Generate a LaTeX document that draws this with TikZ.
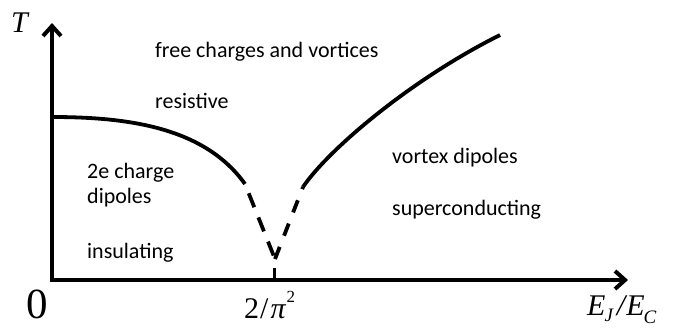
\documentclass[tikz,border=0pt]{standalone}
\usepackage{fontspec}
\setmainfont{Carlito}
\newfontfamily\tms{Liberation Serif}
\usetikzlibrary{arrows.meta}
\tikzset{
  lbl/.style={anchor=base west, inner sep=0pt, font=\fontsize{22}{26}\selectfont},
  mlbl/.style={anchor=base west, inner sep=0pt, text depth=0pt},
  axis/.style={line width=4pt, line join=miter, {Straight Barb[length=10pt,width=18pt]}-{Straight Barb[length=10pt,width=18pt]}},
  phase/.style={line width=3.8pt},
}
\begin{document}
\begin{tikzpicture}[x=1pt,y=-1pt]
\useasboundingbox (0,0) rectangle (674,327);
% axes
\coordinate (ytip) at (52,23);
\coordinate (orig) at (52,280);
\coordinate (xtip) at (628,280);
\draw[axis] (ytip) -- (orig) -- (xtip);
% tick
\coordinate (tickTop) at (274.5,268);
\coordinate (tickBot) at (274.5,280);
\draw[phase] (tickTop) -- (tickBot);
% phase boundary
\coordinate (L0) at (52,117);
\coordinate (Lend) at (245,184);
\coordinate (apex) at (275,259);
\coordinate (Rstart) at (303,187);
\coordinate (Rend) at (500,35);
\draw[phase] (L0) .. controls (130,117) and (205,128) .. (Lend);
\draw[phase, dash pattern=on 15pt off 11pt, dash phase=16pt] (Lend) -- (apex);
\draw[phase, dash pattern=on 13pt off 12pt] (apex) -- (Rstart);
\draw[phase] (Rstart) .. controls (328,150) and (410,80) .. (Rend);
% labels
\node[lbl] (free) at (155,57) {free charges and vortices};
\node[lbl] (res) at (155,108) {resistive};
\node[lbl] (c2e) at (87,178) {2e charge};
\node[lbl] (dip) at (87,203) {dipoles};
\node[lbl] (ins) at (87,258) {insulating};
\node[lbl] (vd) at (392,163) {vortex dipoles};
\node[lbl] (sc) at (392,215) {superconducting};
% math labels
\node[mlbl, font=\tms\itshape\fontsize{30}{34}\selectfont] (T) at (11,32) {T};
\node[mlbl, anchor=base, font=\tms\fontsize{43}{47}\selectfont] (zero) at (37,318) {0};
\node[mlbl, font=\tms\fontsize{30}{34}\selectfont] (crit) at (244,318) {2\kern1pt/\kern2pt{\itshape π}\kern1pt\raisebox{16pt}{\fontsize{17}{18}\selectfont 2}};
\node[mlbl, font=\tms\itshape\fontsize{30}{34}\selectfont] (ratio) at (587,315) {E\kern-1pt\raisebox{-6pt}{\fontsize{19}{20}\selectfont J}\kern4pt/\kern1pt E\kern-1pt\raisebox{-8pt}{\fontsize{19}{20}\selectfont C}};
\end{tikzpicture}
\end{document}
